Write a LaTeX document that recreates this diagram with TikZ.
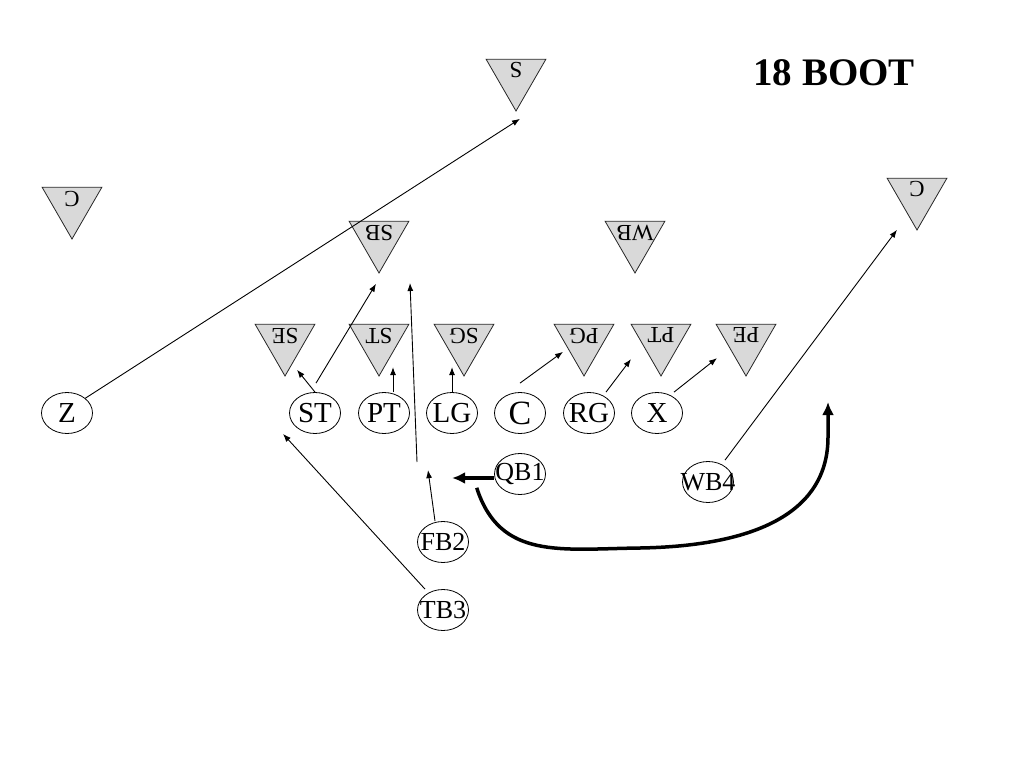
\documentclass[tikz,border=0pt]{standalone}
\usepackage{fontspec}
\setmainfont{Liberation Serif}
\usepackage{tikz}
\usetikzlibrary{shapes,arrows.meta,calc,positioning}
\tikzset{>=latex}
\tikzset{
  defender/.style={regular polygon, regular polygon sides=3, shape border rotate=180,
    draw=black!85, line width=0.8pt, fill=gray!30, minimum size=69pt, inner sep=0pt},
  deftext/.style={rotate=180, inner sep=0pt, font=\fontsize{23}{23}\selectfont},
  player/.style={ellipse, draw, line width=0.8pt, minimum width=51pt, minimum height=41pt,
    inner sep=0pt, font=\fontsize{29}{29}\selectfont},
  back/.style={player, font=\fontsize{26}{26}\selectfont},
  route/.style={-{Latex[length=8pt,width=6pt]}, line width=0.9pt},
  boot/.style={-{Latex[length=13pt,width=12pt]}, line width=3.5pt},
}

\begin{document}
\begin{tikzpicture}[x=1pt, y=-1pt]
  \useasboundingbox (0,0) rectangle (1024,768);

  \node[font=\fontsize{39}{39}\selectfont\bfseries] (title) at (834,73) {18 BOOT};

  % defense
  \foreach \name/\px/\py/\lbl in {dS/516/76.5/S, dCl/72/204.5/C, dCr/917/195.5/C,
      dSB/379/238.5/SB, dWB/635/238.5/WB, dSE/285/341.5/SE, dST/379/341.5/ST,
      dSG/464/341.5/SG, dPG/584/341.5/PG, dPT/661/341.5/PT, dPE/746/341.5/PE}
    {
      \node[defender] (\name) at (\px,\py) {};
      \node[deftext] at ($(\name)+(0,-6)$) {\lbl};
    }

  % offense
  \foreach \name/\px in {Z/67, ST/315, PT/384, LG/452, RG/589, X/657}
    \node[player] (\name) at (\px,413) {\makebox[0pt]{\name}};
  \node[player, font=\fontsize{34}{34}\selectfont] (C) at (520,413) {\makebox[0pt]{C}};
  \node[back] (QB1) at (520,474) {\makebox[0pt]{QB1}};
  \node[back] (WB4) at (708,482) {\makebox[0pt]{WB4}};
  \node[back] (FB2) at (443,542) {\makebox[0pt]{FB2}};
  \node[back] (TB3) at (443,610) {\makebox[0pt]{TB3}};

  % routes and blocks
  \draw[route] (Z.north east) -- ($(dS.south)+(4,7)$);
  \draw[route] (ST.north) -- ($(dSE.south)+(12,-7)$);
  \draw[route] ($(ST.north)+(1,-9)$) -- ($(dSB.south)+(-3,10)$);
  \draw[route] ($(PT.north)+(9,0)$) -- ++(0,-25);
  \draw[route] (LG.north) -- ++(0,-25);
  \draw[route] ($(C.north)+(0,-9)$) -- ($(dPG.south)+(-21,-25)$);
  \draw[route] ($(RG.north)+(17,0)$) -- ++(25,-33);
  \draw[route] ($(X.north)+(17,0)$) -- ++(43,-34);
  \draw[route] ($(WB4.north)+(17,-1)$) -- ($(dCr.south)+(-20,-1)$);
  \draw[route] ($(TB3.north)+(-18,0)$) -- ($(ST.south)+(-32,0)$);
  \draw[route] ($(FB2.north)+(-8,0)$) -- ++(-7,-51);
  \coordinate (fbLead) at (417,462);
  \draw[route] (fbLead) -- ++(-7,-179);

  % boot action
  \draw[boot] ($(QB1.west)+(0,4)$) -- ++(-42,0);
  \draw[boot] ($(QB1.south west)+(-25,-1)$) .. controls (500,560) and (560,549) .. (640,548)
    .. controls (805,545) and (828,480) .. (828,437) -- (828,402);
\end{tikzpicture}
\end{document}
